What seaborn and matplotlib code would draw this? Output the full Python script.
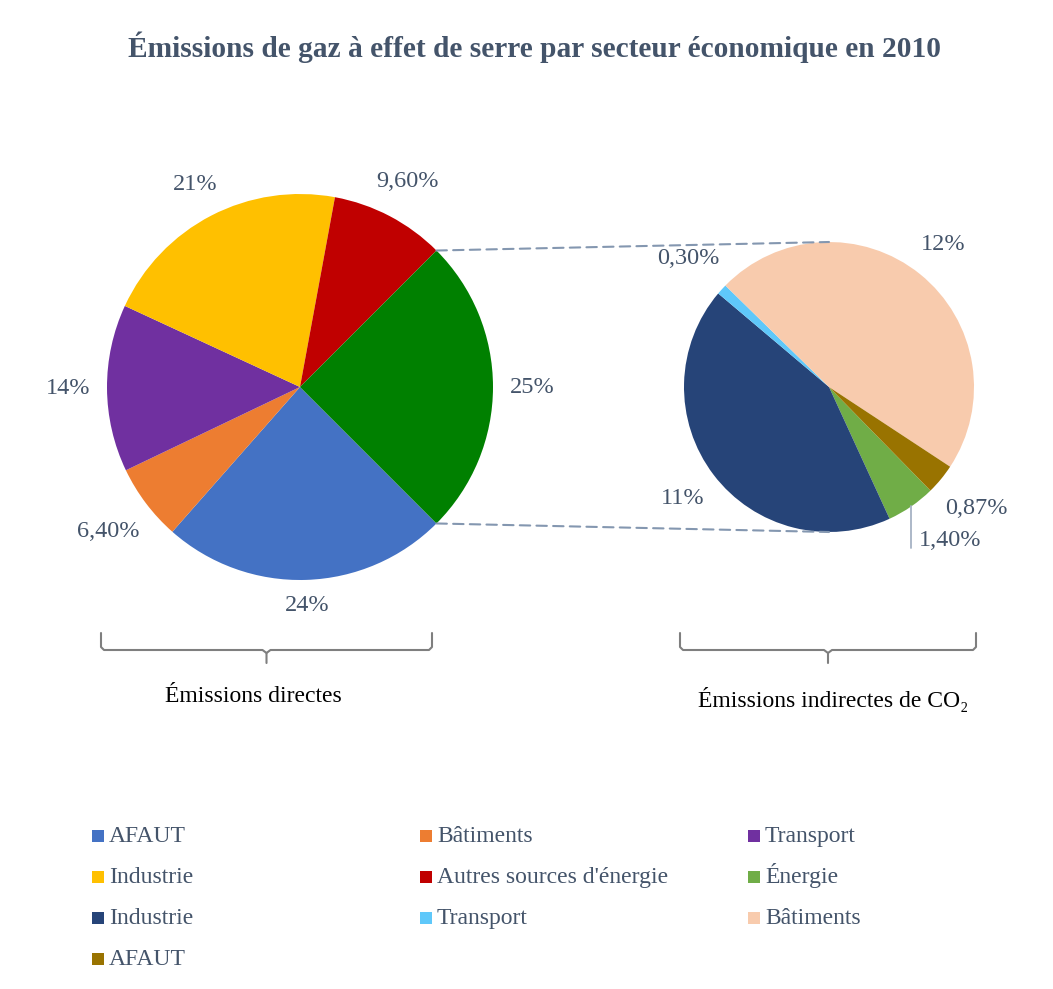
import numpy as np
import matplotlib
matplotlib.use("Agg")
import matplotlib.pyplot as plt
import seaborn as sns
from matplotlib.patches import ConnectionPatch, Rectangle
from matplotlib.lines import Line2D

# data
direct_names = ["AFAUT", "Bâtiments", "Transport", "Industrie", "Autres sources d'énergie"]
direct_values = [24, 6.4, 14, 21, 9.6]
direct_pct = ["24%", "6,40%", "14%", "21%", "9,60%"]
direct_colors = ["#4472C4", "#ED7D31", "#7030A0", "#FFC000", "#C00000"]

other_value = 25
other_pct = "25%"
other_color = "#008000"

indirect_names = ["Énergie", "Industrie", "Transport", "Bâtiments", "AFAUT"]
indirect_values = [1.4, 11, 0.3, 12, 0.87]
indirect_pct = ["1,40%", "11%", "0,30%", "12%", "0,87%"]
indirect_colors = ["#70AD47", "#264478", "#5FC8FA", "#F8CBAD", "#997300"]

sns.set_theme(style="white")
plt.rcParams["font.family"] = ["Liberation Serif", "DejaVu Serif"]

W, H = 1053, 989
fig = plt.figure(figsize=(W / 100, H / 100), dpi=100)
fig.patch.set_facecolor("white")
txt_col = "#44546A"


def box(cx, cy, r):
    return [(cx - r) / W, (H - cy - r) / H, 2 * r / W, 2 * r / H]


def make_pie(rect, values, colors, labels, start):
    ax = fig.add_axes(rect)
    wedges, texts = ax.pie(values, colors=colors, startangle=start,
                           counterclock=False, labels=labels,
                           wedgeprops=dict(linewidth=0),
                           textprops=dict(color=txt_col, fontsize=17.5))
    for t in texts:
        t.set_ha("center")
        t.set_va("center")
    ax.set_xlim(-1, 1)
    ax.set_ylim(-1, 1)
    ax.set_aspect("equal")
    ax.axis("off")
    return ax, wedges, texts


ax1, w1, t1 = make_pie(box(300, 387, 193), direct_values + [other_value],
                       direct_colors + [other_color], direct_pct + [other_pct], -45)
ax2, w2, t2 = make_pie(box(829, 387, 145), indirect_values, indirect_colors,
                       indirect_pct, -45.6)

# place labels outside with a constant gap from the rim
fig.canvas.draw()
renderer = fig.canvas.get_renderer()
gap = 17
for ax, wedges, texts, rpx in [(ax1, w1, t1, 193), (ax2, w2, t2, 145)]:
    for w, t in zip(wedges, texts):
        a = np.deg2rad((w.theta1 + w.theta2) / 2)
        bb = t.get_window_extent(renderer)
        d = rpx + gap + abs(np.cos(a)) * bb.width / 2 + abs(np.sin(a)) * bb.height * 0.4
        t.set_position((np.cos(a) * d / rpx, np.sin(a) * d / rpx))

# leader line for the small green slice
g = w2[0]
a = np.deg2rad((g.theta1 + g.theta2) / 2)
ex, ey = np.cos(a), np.sin(a)
ax2.plot([ex, ex], [ey, -1.11], color="#A6B2C4", lw=1.3, clip_on=False)
t2[0].set_position((ex + 0.05, -1.06))
t2[0].set_ha("left")

# dashed connectors from the 25% wedge to the second pie
ow = w1[-1]
for th, yb in [(ow.theta2, 1), (ow.theta1, -1)]:
    a = np.deg2rad(th)
    con = ConnectionPatch(xyA=(np.cos(a), np.sin(a)), coordsA=ax1.transData,
                          xyB=(0, yb), coordsB=ax2.transData,
                          color="#8497B0", lw=1.5, ls=(0, (5, 3)))
    fig.add_artist(con)


# brackets
def bracket(x0, x1, y0=633, y1=650, y2=663):
    xm = (x0 + x1) / 2
    pts = [(x0, y0), (x0, y1 - 3), (x0 + 3, y1), (xm - 4, y1), (xm, y1 + 3), (xm, y2)]
    pts2 = [(x1, y0), (x1, y1 - 3), (x1 - 3, y1), (xm + 4, y1), (xm, y1 + 3)]
    for p in (pts, pts2):
        xs = [q[0] / W for q in p]
        ys = [1 - q[1] / H for q in p]
        fig.add_artist(Line2D(xs, ys, color="#7F7F7F", lw=1.5))


bracket(101, 432)
bracket(680, 976)
fig.text(253 / W, 1 - 697 / H, "Émissions directes", ha="center", va="center",
         fontsize=17, color="black")
fig.text(833 / W, 1 - 699 / H, "Émissions indirectes de CO\u2082", ha="center",
         va="center", fontsize=17, color="black")

# title
fig.text(535 / W, 1 - 47 / H,
         "Émissions de gaz à effet de serre par secteur économique en 2010",
         ha="center", va="center", fontsize=21.2, fontweight="bold", color=txt_col)

# legend: 3 columns, filled row by row
names = direct_names + indirect_names
cols = direct_colors + indirect_colors
col_x = [92, 420, 748]
row_base = [842, 883, 924, 965]
sq = 12
for i, (n, c) in enumerate(zip(names, cols)):
    x, yb = col_x[i % 3], row_base[i // 3]
    fig.add_artist(Rectangle((x / W, 1 - yb / H), sq / W, sq / H,
                             transform=fig.transFigure, facecolor=c,
                             edgecolor="none"))
    fig.text((x + 17) / W, 1 - yb / H, n, ha="left", va="baseline",
             fontsize=17, color=txt_col)

fig.savefig("out.png", dpi=100, facecolor="white")
